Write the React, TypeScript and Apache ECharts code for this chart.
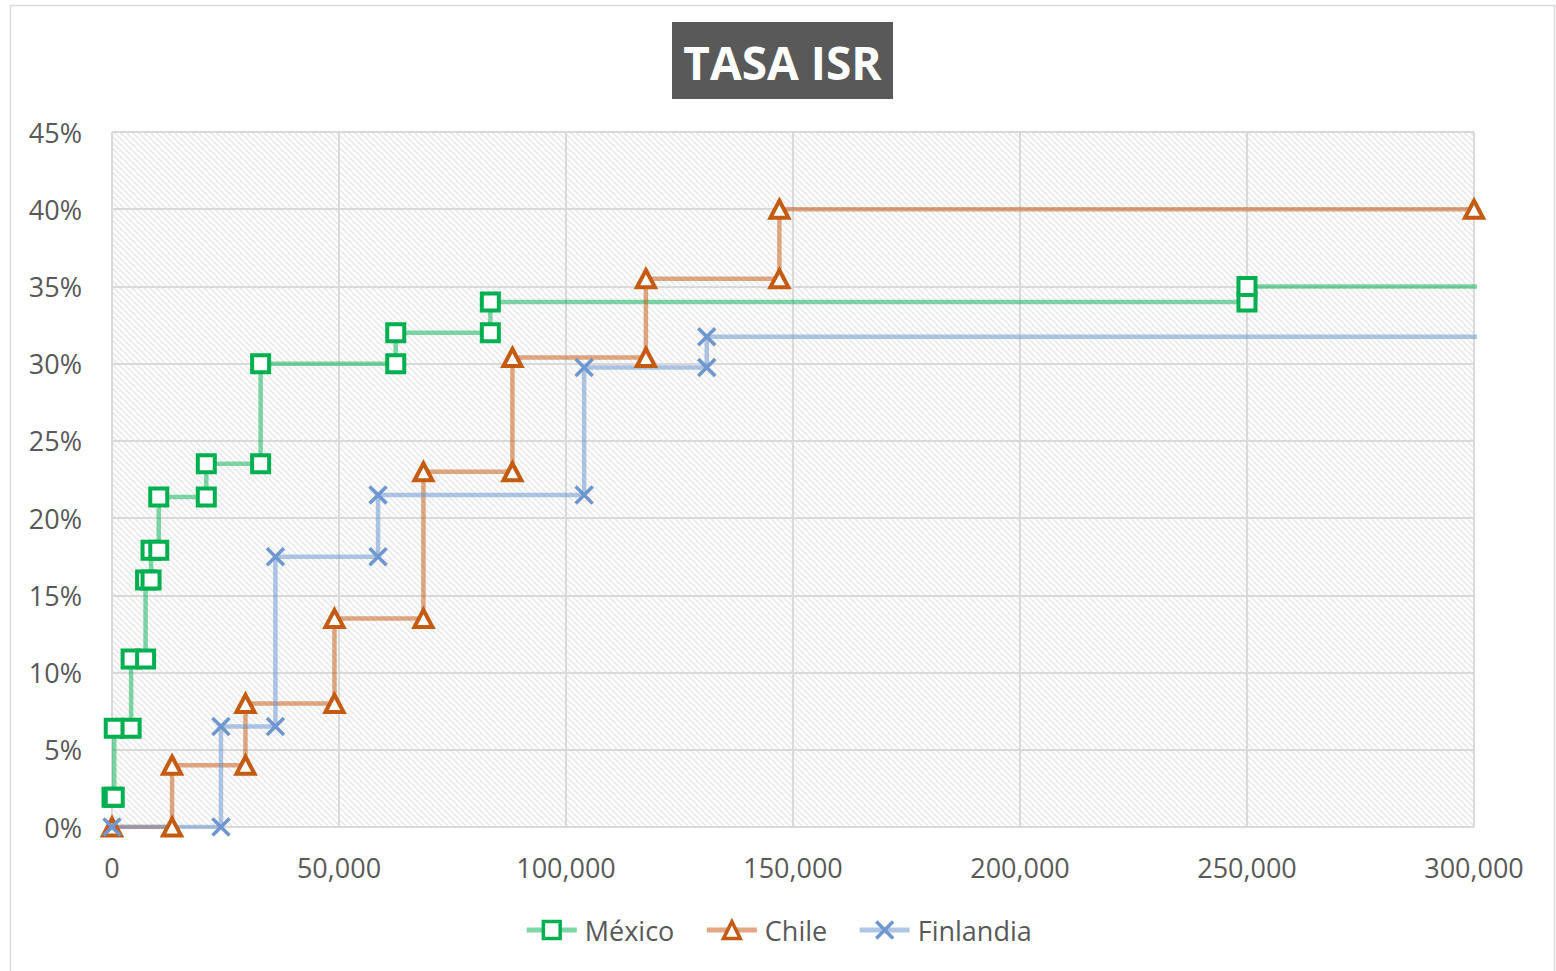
import React, { useEffect, useRef } from "react";
import * as echarts from "echarts";

const FONT = '"Open Sans", "Noto Sans", sans-serif';

const seriesNames = ["México", "Chile", "Finlandia"];

const mexicoIncome = [0.01, 496.07, 496.08, 4210.41, 4210.42, 7399.42, 7399.43, 8601.5, 8601.51, 10298.35, 10298.36, 20770.29, 20770.3, 32736.83, 32736.84, 62500.0, 62500.01, 83333.33, 83333.34, 250000.0, 250000.01, 320000];
const mexicoRate = [1.92, 1.92, 6.4, 6.4, 10.88, 10.88, 16.0, 16.0, 17.92, 17.92, 21.36, 21.36, 23.52, 23.52, 30.0, 30.0, 32.0, 32.0, 34.0, 34.0, 35.0, 35.0];

const chileIncome = [0, 13230, 13230, 29400, 29400, 49000, 49000, 68600, 68600, 88200, 88200, 117600, 117600, 147000, 147000, 300000];
const chileRate = [0, 0, 4, 4, 8, 8, 13.5, 13.5, 23, 23, 30.4, 30.4, 35.5, 35.5, 40, 40];

const finlandiaIncome = [0, 24000, 24000, 36000, 36000, 58600, 58600, 104000, 104000, 131000, 131000, 320000];
const finlandiaRate = [0, 0, 6.5, 6.5, 17.5, 17.5, 21.5, 21.5, 29.75, 29.75, 31.75, 31.75];

const xTicks = { min: 0, max: 300000, interval: 50000 };
const yTicks = { min: 0, max: 45, interval: 5 };

function pairs(xs: number[], ys: number[]) {
  return xs.map((x, i) => [x, ys[i]]);
}

function makeHatch() {
  const s = 6;
  const c = document.createElement("canvas");
  c.width = s;
  c.height = s;
  const ctx = c.getContext("2d")!;
  ctx.fillStyle = "#ffffff";
  ctx.fillRect(0, 0, s, s);
  ctx.strokeStyle = "#ebebeb";
  ctx.lineWidth = 1.8;
  for (const k of [-s, 0, s]) {
    ctx.beginPath();
    ctx.moveTo(k - 1, -1);
    ctx.lineTo(k + s + 1, s + 1);
    ctx.stroke();
  }
  return c;
}

export default function App() {
  const ref = useRef<HTMLDivElement>(null);
  useEffect(() => {
    if (!ref.current) return;
    const chart = echarts.init(ref.current, undefined, { renderer: "svg" });
    const hatch = makeHatch();
    const option: any = {
      animation: false,
      backgroundColor: "#ffffff",
      textStyle: { fontFamily: FONT },
      grid: {
        left: 112,
        right: 82,
        top: 132,
        bottom: 144,
        show: true,
        borderWidth: 0,
        backgroundColor: { image: hatch, repeat: "repeat", imageWidth: 6, imageHeight: 6 },
      },
      graphic: [
        {
          type: "rect",
          shape: { x: 10.5, y: 5.5, width: 1544, height: 990 },
          style: { fill: "none", stroke: "#d9d9d9", lineWidth: 1.5 },
          silent: true,
        },
        {
          type: "rect",
          shape: { x: 672, y: 22, width: 221, height: 77 },
          style: { fill: "#595959" },
          silent: true,
        },
        {
          type: "text",
          x: 782.5,
          y: 62,
          style: {
            text: "TASA ISR",
            fill: "#ffffff",
            font: 'bold 46px "Open Sans", sans-serif',
            align: "center",
            verticalAlign: "middle",
            textAlign: "center",
            textVerticalAlign: "middle",
          },
          silent: true,
        },
      ],
      legend: {
        data: seriesNames,
        left: "center",
        top: 911,
        itemWidth: 50,
        itemHeight: 21,
        itemGap: 30,
        lineStyle: { width: 5 },
        itemStyle: { borderWidth: 3.5 },
        textStyle: { fontSize: 27, color: "#595959", fontFamily: FONT, lineHeight: 28, padding: [0, 0, 0, 3] },
      },
      xAxis: {
        type: "value",
        min: xTicks.min,
        max: xTicks.max,
        interval: xTicks.interval,
        axisLine: { show: false },
        axisTick: { show: false },
        splitLine: { show: true, lineStyle: { color: "#d9d9d9", width: 2 } },
        axisLabel: {
          fontSize: 27,
          color: "#595959",
          fontFamily: FONT,
          margin: 27,
          formatter: (v: number) => v.toLocaleString("en-US"),
        },
      },
      yAxis: {
        type: "value",
        min: yTicks.min,
        max: yTicks.max,
        interval: yTicks.interval,
        axisLine: { show: false },
        axisTick: { show: false },
        splitLine: { show: true, lineStyle: { color: "#d9d9d9", width: 2 } },
        axisLabel: {
          fontSize: 27,
          color: "#595959",
          fontFamily: FONT,
          margin: 30,
          formatter: "{value}%",
        },
      },
      series: [
        {
          name: "México",
          type: "line",
          data: pairs(mexicoIncome, mexicoRate),
          symbol: "rect",
          symbolSize: 17,
          showAllSymbol: true,
          lineStyle: { color: "rgba(0,176,80,0.5)", width: 4.5 },
          itemStyle: { color: "#ffffff", borderColor: "#00b050", borderWidth: 4 },
        },
        {
          name: "Chile",
          type: "line",
          data: pairs(chileIncome, chileRate),
          symbol: "triangle",
          symbolSize: [18, 17],
          showAllSymbol: true,
          lineStyle: { color: "rgba(197,90,17,0.52)", width: 4.5 },
          itemStyle: { color: "#ffffff", borderColor: "#c55a11", borderWidth: 4 },
        },
        {
          name: "Finlandia",
          type: "line",
          data: pairs(finlandiaIncome, finlandiaRate),
          symbol: "path://M0,0L10,10M10,0L0,10",
          symbolSize: 17,
          showAllSymbol: true,
          lineStyle: { color: "rgba(112,152,208,0.55)", width: 4.5 },
          itemStyle: { color: "#6e96cf", borderColor: "#6e96cf", borderWidth: 3.5 },
        },
      ],
    };
    chart.setOption(option);
    return () => chart.dispose();
  }, []);
  return (
    <div
      ref={ref}
      style={{ position: "absolute", left: 0, top: 0, width: 1556, height: 971 }}
    />
  );
}
